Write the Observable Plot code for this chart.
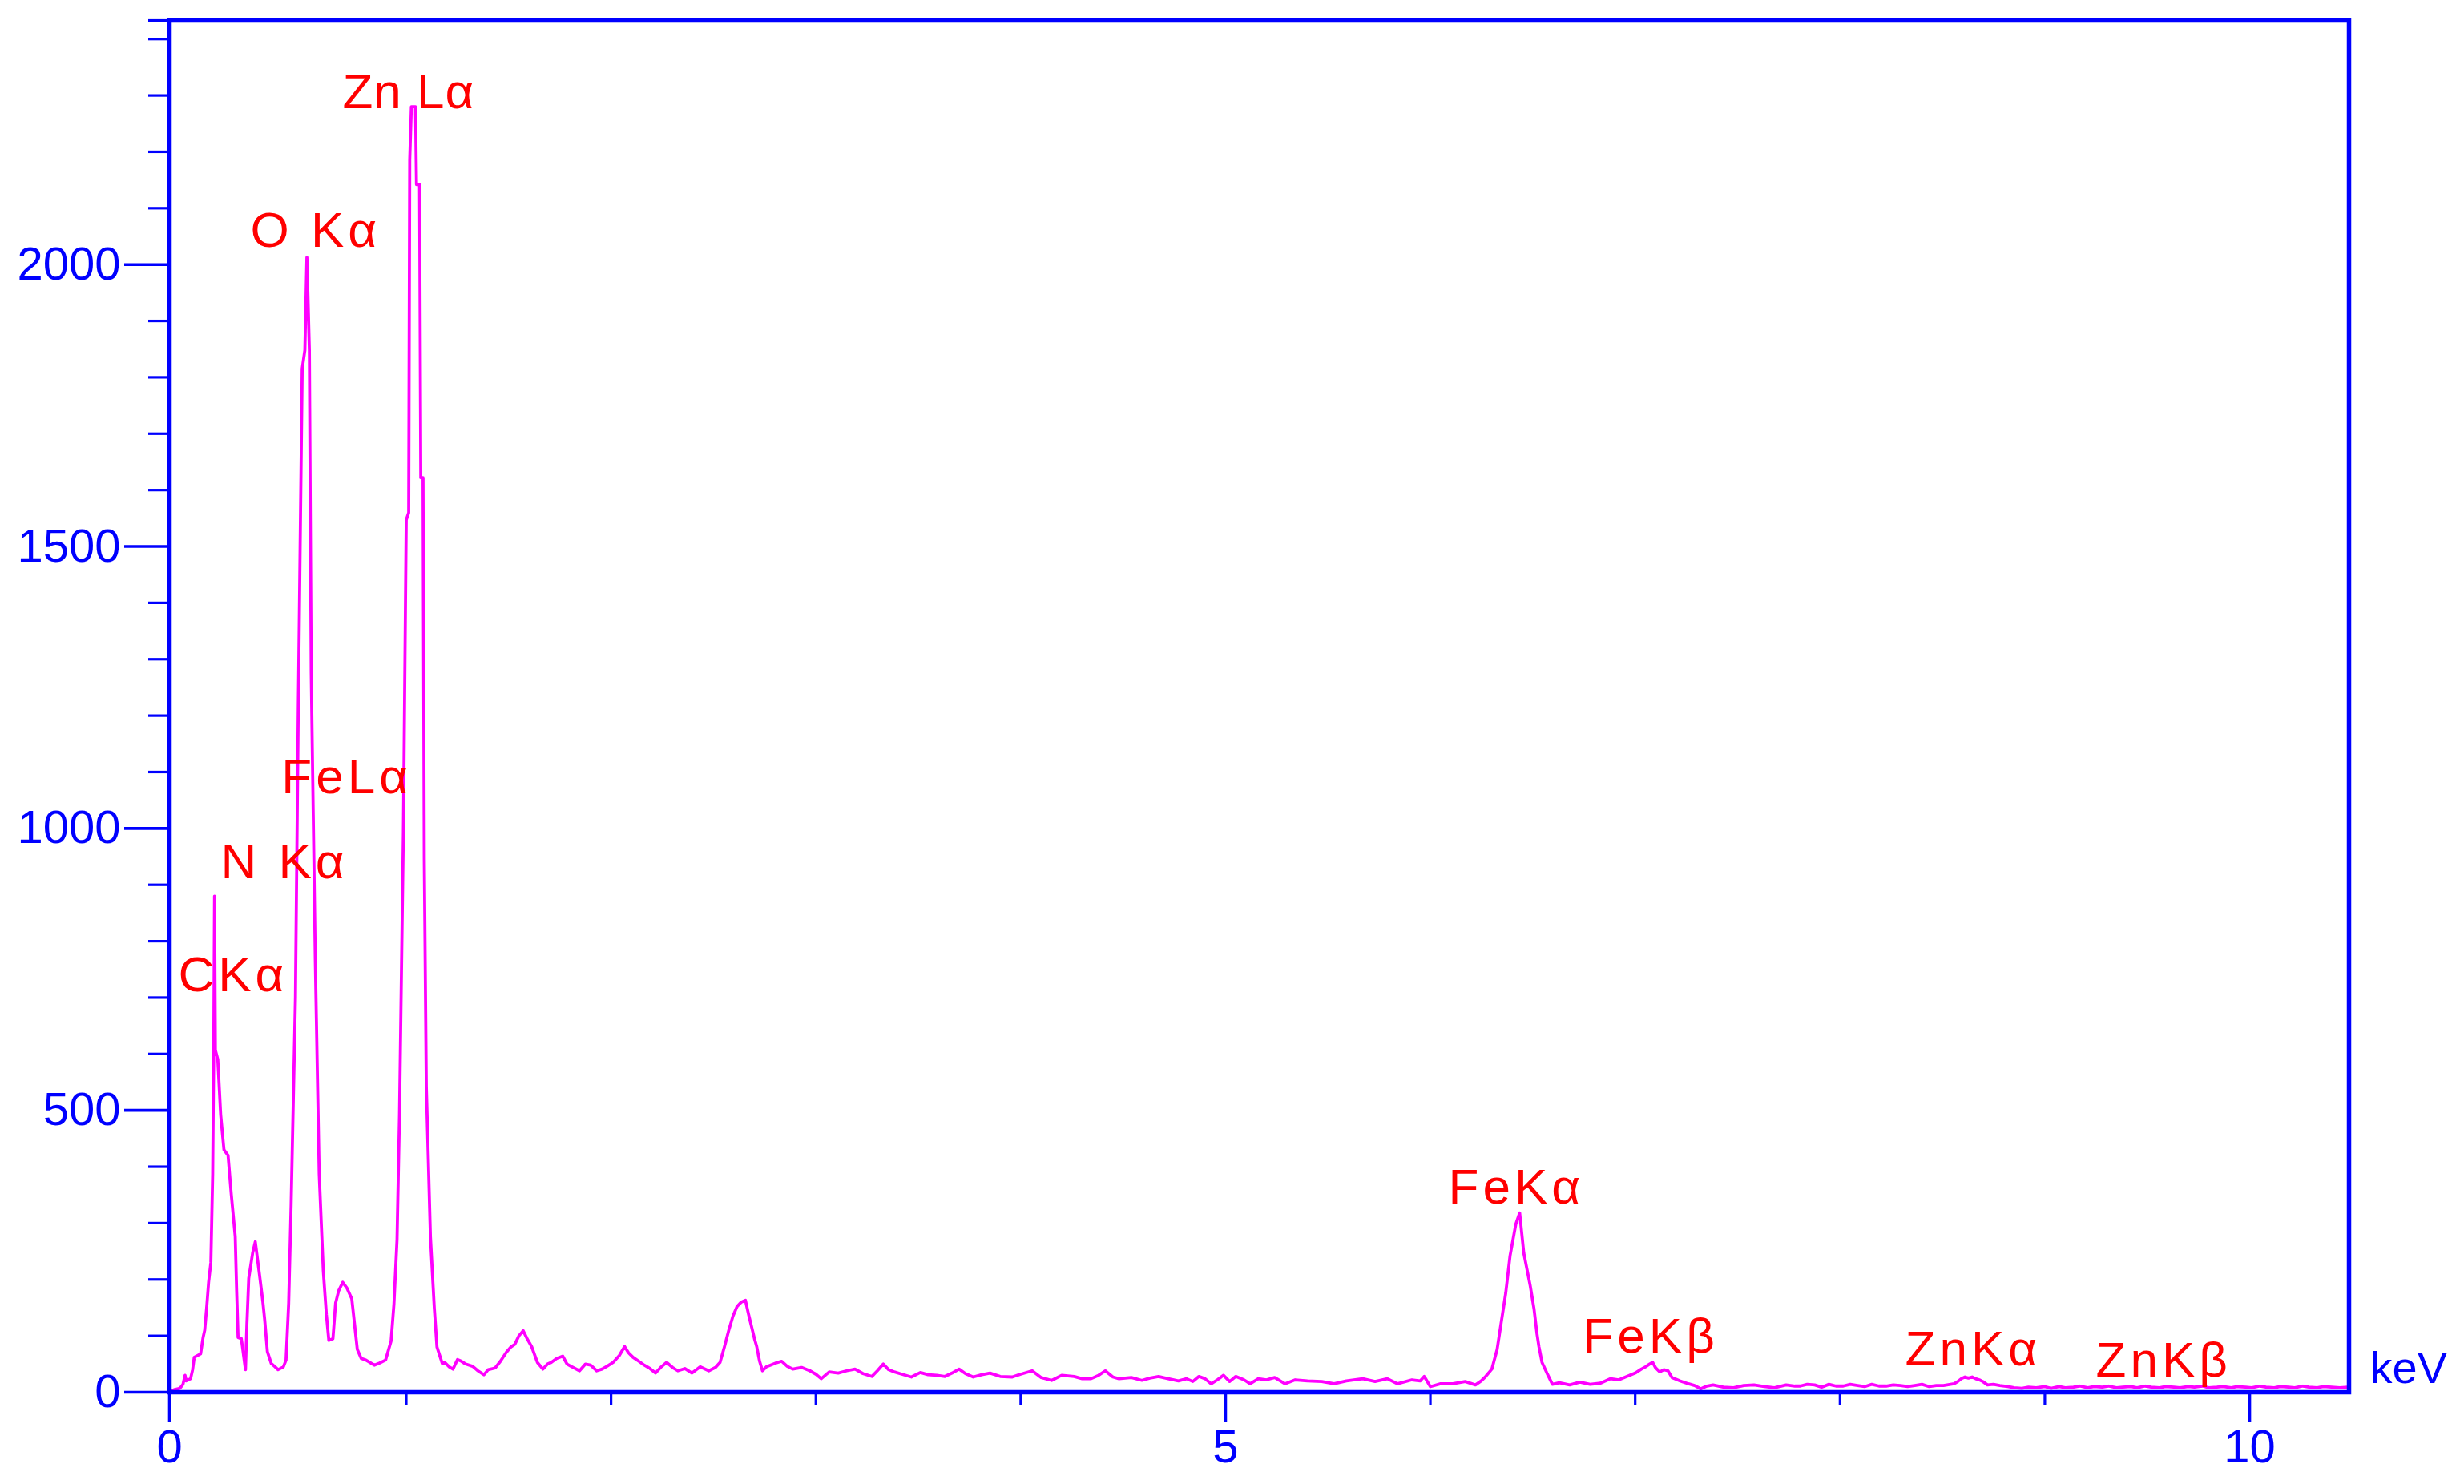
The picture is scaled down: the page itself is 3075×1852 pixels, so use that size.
<!DOCTYPE html>
<html>
<head>
<meta charset="utf-8">
<script src="https://cdn.jsdelivr.net/npm/d3@7"></script>
<script src="https://cdn.jsdelivr.net/npm/@observablehq/plot@0.6"></script>
<style>
html, body { margin: 0; padding: 0; background: #ffffff; overflow: hidden; }
#chart svg { display: block; }
</style>
</head>
<body>
<div id="chart"></div>
<script>
// ---- spectrum, [energy keV, counts] ----
const spectrumLow = [
  [-0.156,0],[-0.13,5],[-0.105,7],[-0.09,14],[-0.08,30],[-0.074,20],[-0.053,24],[-0.043,40],
  [-0.035,62],[-0.004,68],[0.008,97],[0.016,110],[0.026,152],[0.035,195],[0.046,230],[0.055,387],
  [0.060,600],[0.064,880],[0.068,607],[0.080,590],[0.094,492],[0.11,430],[0.13,420],[0.146,350],
  [0.165,276],[0.172,180],[0.179,97],[0.195,95],[0.215,40],[0.222,120],[0.231,202],[0.25,247],
  [0.263,267],[0.283,210],[0.30,160],[0.309,128],[0.322,72],[0.341,51],[0.36,45],[0.374,40],
  [0.40,45],[0.413,57],[0.426,158],[0.438,333],[0.459,700],[0.473,1218],[0.492,1815],[0.505,1848],
  [0.515,2013],[0.527,1848],[0.536,1277],[0.556,766],[0.575,387],[0.595,215],[0.610,138],[0.622,92],
  [0.642,95],[0.655,158],[0.67,180],[0.69,195],[0.71,185],[0.734,166],[0.761,76],[0.78,60],
  [0.803,57],[0.844,48],[0.87,52],[0.899,57],[0.926,91],[0.94,157],[0.955,271],[0.967,492],
  [0.986,993],[1.000,1547],[1.012,1560],[1.017,2186],[1.025,2280],[1.045,2280],[1.050,2142],[1.065,2142],
  [1.071,1622],[1.082,1622],[1.088,945],[1.098,542],[1.118,276],[1.137,149],[1.150,80],[1.176,51]
];
const spectrumMid = [
  [1.187,53],[1.21,45],[1.228,41],[1.25,58],[1.269,55],[1.29,50],[1.324,46],[1.35,38],[1.379,31],
  [1.40,40],[1.434,43],[1.46,55],[1.489,71],[1.51,80],[1.530,85],[1.55,100],[1.571,109],[1.59,95],
  [1.612,81],[1.64,53],[1.667,41],[1.69,50],[1.708,53],[1.735,60],[1.764,64],[1.785,50],[1.804,46],
  [1.846,38],[1.875,50],[1.90,48],[1.93,38],[1.956,41],[1.98,46],[2.01,53],[2.04,65],[2.066,81],
  [2.085,70],[2.107,62],[2.135,55],[2.162,48],[2.19,42],[2.217,34],[2.245,45],[2.271,53],[2.30,44],
  [2.326,38],[2.36,42],[2.395,34],[2.435,45],[2.477,38],[2.51,44],[2.532,53],[2.553,80],[2.574,109],
  [2.595,135],[2.615,152],[2.636,160],[2.656,163],[2.67,140],[2.684,119],[2.70,95],[2.711,81],[2.725,55],
  [2.739,38],[2.758,45],[2.778,48],[2.805,52],[2.833,55],[2.86,46],[2.887,41],[2.93,44],[2.971,38],
  [3.0,32],[3.026,24],[3.065,36],[3.109,34],[3.15,38],[3.191,41],[3.23,33],[3.273,28],[3.30,38],
  [3.329,50],[3.355,40],[3.383,36],[3.42,32],[3.466,27],[3.51,35],[3.548,31],[3.59,30],[3.63,28],
  [3.665,34],[3.699,41],[3.73,33],[3.768,27],[3.81,31],[3.85,34],[3.90,28],[3.959,27],[4.00,32],
  [4.056,38],[4.10,26],[4.151,21],[4.20,30],[4.261,28],[4.30,24],[4.343,24],[4.38,30],[4.413,38],
  [4.45,27],[4.48,24],[4.54,26],[4.592,21],[4.63,25],[4.673,28],[4.72,24],[4.77,20],[4.81,24],
  [4.84,19],[4.87,28],[4.90,24],[4.93,15],[4.96,22],[4.99,30],[5.02,19],[5.05,28],[5.09,22],
  [5.12,15],[5.16,24],[5.20,22],[5.24,26],[5.29,15],[5.34,22],[5.40,20],[5.47,19],[5.53,15],
  [5.59,20],[5.67,24],[5.73,19],[5.79,24],[5.84,15],[5.91,22],[5.95,20],[5.97,28],[6.00,10],
  [6.05,15],[6.11,15],[6.17,19],[6.22,13],[6.248,20]
];
const spectrumFe = [
  [6.27,28],[6.30,41],[6.326,76],[6.346,124],[6.368,176],[6.389,242],[6.417,298],[6.436,318],
  [6.456,247],[6.487,190],[6.506,148],[6.52,105],[6.53,81],[6.545,53],[6.569,34],[6.596,14],
  [6.63,17],[6.68,13],[6.73,18],[6.78,14],[6.83,16],[6.88,24],[6.92,22],[6.96,28],[7.00,34],
  [7.03,41],[7.05,45],[7.07,50],[7.085,53],[7.10,43],[7.12,36],[7.14,40],[7.16,38],[7.18,26],
  [7.22,20],[7.26,15],[7.29,12],[7.32,6],[7.35,11],[7.38,13]
];
const spectrumHigh = [
  [7.43,9],[7.48,8],[7.53,12],[7.58,13],[7.63,10],[7.68,8],[7.737,13],[7.78,11],[7.806,11],
  [7.84,14],[7.876,13],[7.91,9],[7.946,14],[7.98,11],[8.016,11],[8.05,14],[8.086,12],[8.12,10],
  [8.155,14],[8.19,11],[8.225,11],[8.26,13],[8.295,12],[8.33,10],[8.365,12],[8.40,14],[8.435,10],
  [8.47,12],[8.505,12],[8.557,15],[8.575,19],[8.592,24],[8.61,27],[8.627,25],[8.645,27],[8.662,24],
  [8.68,22],[8.697,19],[8.72,13],[8.749,14],[8.78,12],[8.819,10],[8.85,8],[8.888,7],[8.92,9],
  [8.958,8],[9.0,10],[9.03,7],[9.07,10],[9.10,8],[9.14,9],[9.17,11],[9.21,8],[9.24,10],[9.28,9],
  [9.31,11],[9.35,8],[9.38,9],[9.42,10],[9.45,8],[9.49,11],[9.52,9],[9.56,8],[9.59,10],[9.63,9],
  [9.66,8],[9.70,10],[9.73,9],[9.77,11],[9.80,8],[9.84,9],[9.87,10],[9.91,8],[9.94,10],[9.98,9],
  [10.01,8],[10.05,11],[10.08,9],[10.12,8],[10.15,10],[10.19,9],[10.22,8],[10.26,11],[10.29,9],
  [10.33,8],[10.36,10],[10.40,9],[10.44,8],[10.48,9]
];

// ---- peak labels ----
const peakNames  = ["Zn Lα", "O Kα", "FeLα", "N Kα", "CKα", "FeKα", "FeKβ", "ZnKα", "ZnKβ"];
const peakLabelE = [0.689, 0.239, 0.391, 0.094, -0.113, 6.088, 6.745, 8.318, 9.249];
const peakLabelC = [2277, 2031, 1062, 911, 711, 334, 70, 48, 28];

// ---- axes ----
const xDomain = [-0.156, 10.485];
const yDomain = [0, 2433];
const xTickValues = [-0.156, 5, 10];
const xTickLabels = ["0", "5", "10"];
const xMinorTicks = [1, 2, 3, 4, 6, 7, 8, 9];
const yMajorTicks = [0, 500, 1000, 1500, 2000];
const yMinorTicks = [100, 200, 300, 400, 600, 700, 800, 900, 1100, 1200, 1300, 1400,
                     1600, 1700, 1800, 1900, 2100, 2200, 2300, 2400, 2433];
const xUnit = "keV";

const blue = "#0000ff";
const magenta = "#ff00ff";
const red = "#ff0000";

const spectrum = [...spectrumLow, ...spectrumMid, ...spectrumFe, ...spectrumHigh]
  .map(([e, c]) => ({e, c}));
const labels = peakNames.map((name, i) => ({name, e: peakLabelE[i], c: peakLabelC[i]}));

const chart = Plot.plot({
  width: 3075,
  height: 1852,
  marginLeft: 211,
  marginRight: 144,
  marginTop: 25,
  marginBottom: 115,
  style: {fontFamily: "'Liberation Sans', Arial, sans-serif", background: "#ffffff", overflow: "visible"},
  x: {domain: xDomain, label: null},
  y: {domain: yDomain, label: null},
  marks: [
    Plot.axisY({ticks: yMinorTicks, tickSize: 26, tickFormat: () => "", color: blue, strokeWidth: 3.2, label: null}),
    Plot.axisY({ticks: yMajorTicks, tickSize: 56, tickPadding: 5, fontSize: 58, color: blue, strokeWidth: 3.6,
                tickFormat: d => String(d), label: null}),
    Plot.axisX({ticks: xMinorTicks, tickSize: 16, tickFormat: () => "", color: blue, strokeWidth: 3.2, label: null}),
    Plot.axisX({ticks: xTickValues, tickSize: 38, tickPadding: 8, fontSize: 58, color: blue, strokeWidth: 3.6,
                tickFormat: d => xTickLabels[xTickValues.indexOf(d)], label: null}),
    Plot.line(spectrum, {x: "e", y: "c", stroke: magenta, strokeWidth: 3.8}),
    Plot.frame({stroke: blue, strokeWidth: 5.5}),
    Plot.text(labels, {x: "e", y: "c", text: "name", fill: red, fontSize: 62,
                       textAnchor: "start", lineAnchor: "bottom"}),
    Plot.text([xUnit], {frameAnchor: "bottom-right", text: d => d, fill: blue, fontSize: 56,
                        textAnchor: "start", lineAnchor: "bottom", dx: 26, dy: -12})
  ]
});

const textGroups = chart.querySelectorAll('g[aria-label="text"]');
if (textGroups.length) {
  textGroups[0].setAttribute("letter-spacing", "5px");
  textGroups[0].querySelectorAll("text").forEach(t => {
    if (t.textContent.includes(" L")) t.setAttribute("letter-spacing", "1px");
  });
}
document.getElementById("chart").appendChild(chart);
</script>
</body>
</html>
